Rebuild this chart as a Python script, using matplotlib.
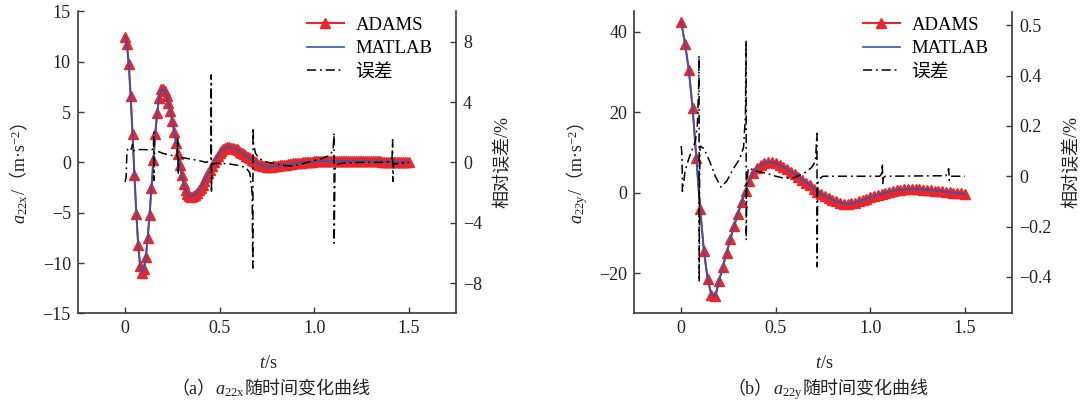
import matplotlib
matplotlib.use('Agg')
import matplotlib.pyplot as plt
import numpy as np
from matplotlib.lines import Line2D

plt.rcParams['font.family'] = ['Liberation Serif', 'Noto Sans CJK SC']
plt.rcParams['mathtext.fontset'] = 'custom'
plt.rcParams['mathtext.rm'] = 'Liberation Serif'
plt.rcParams['mathtext.it'] = 'Liberation Serif:italic'
plt.rcParams['axes.unicode_minus'] = True

# ---------------- data: panel (a) ----------------
t_x = np.round(np.arange(0, 1.5001, 0.01), 2)
a22x = [12.5, 11.8, 9.75, 6.6, 2.8, -1.3, -5.1, -8.25, -10.3, -11.0,
        -10.6, -9.4, -7.5, -5.2, -2.5, 0.2, 2.8, 4.9, 6.4, 7.25,
        7.3, 7.1, 6.6, 5.95, 5.1, 4.1, 3.05, 1.9, 0.8, -0.25,
        -1.25, -2.1, -2.75, -3.15, -3.38, -3.39, -3.32, -3.2, -3.02, -2.79,
        -2.51, -2.2, -1.85, -1.48, -1.1, -0.72, -0.34, 0.02, 0.36, 0.67,
        0.94, 1.16, 1.33, 1.44, 1.5, 1.5, 1.48, 1.43, 1.37, 1.29,
        1.19, 1.08, 0.96, 0.82, 0.68, 0.54, 0.4, 0.26, 0.12, 0.0,
        -0.11, -0.21, -0.29, -0.35, -0.4, -0.42, -0.42, -0.41, -0.4, -0.38,
        -0.36, -0.33, -0.3, -0.27, -0.24, -0.21, -0.18, -0.15, -0.12, -0.09,
        -0.07, -0.05, -0.03, -0.01, 0.01, 0.03, 0.04, 0.06, 0.07, 0.08,
        0.09, 0.1, 0.11, 0.12, 0.13, 0.13, 0.14, 0.14, 0.15, 0.15,
        0.15, 0.16, 0.16, 0.16, 0.16, 0.16, 0.16, 0.16, 0.16, 0.15,
        0.15, 0.15, 0.15, 0.14, 0.14, 0.14, 0.13, 0.13, 0.12, 0.12,
        0.11, 0.11, 0.1, 0.1, 0.09, 0.09, 0.08, 0.08, 0.07, 0.07,
        0.06, 0.06, 0.05, 0.05, 0.04, 0.04, 0.03, 0.03, 0.02, 0.02, 0.01]
matlab_x = a22x

t_err_x = [0.000, 0.006, 0.010, 0.015, 0.025, 0.035, 0.040, 0.043, 0.06, 0.10,
           0.14, 0.150, 0.152, 0.153, 0.156, 0.17, 0.20, 0.25, 0.275, 0.279,
           0.281, 0.285, 0.32, 0.38, 0.43, 0.454, 0.456, 0.457, 0.460, 0.50,
           0.55, 0.60, 0.64, 0.66, 0.672, 0.676, 0.677, 0.68, 0.69, 0.71,
           0.74, 0.78, 0.84, 0.88, 0.92, 0.98, 1.04, 1.08, 1.100, 1.105,
           1.106, 1.110, 1.115, 1.15, 1.25, 1.35, 1.40, 1.412, 1.415, 1.416,
           1.42, 1.50]
err_x = [-1.3, -1.0, 0.6, 0.95, 0.85, 0.9, 1.2, 0.75, 0.85, 0.85,
         0.82, 0.9, 2.0, -1.2, 0.6, 0.75, 0.6, 0.45, 0.4, 1.6,
         -0.8, 0.35, 0.28, 0.15, 0.0, 0.2, 5.8, -2.0, -0.1, -0.05,
         -0.1, -0.2, -0.35, -0.7, -2.0, -7.0, 2.3, 1.2, 0.6, 0.25,
         0.05, -0.05, -0.2, -0.25, -0.15, 0.05, 0.25, 0.45, 0.8, 1.95,
         -5.35, -0.5, -0.15, -0.05, 0.0, 0.0, 0.05, 0.3, 1.5, -1.26,
         -0.1, 0.0]

# ---------------- data: panel (b) ----------------
t_y = np.round(np.arange(0, 1.5001, 0.02), 2)
a22y = [42.3, 37.0, 30.5, 21.0, 8.5, -4.0, -14.5, -21.6, -25.5, -25.8,
        -22.0, -18.5, -15.0, -11.5, -8.3, -5.3, -2.4, 0.4, 2.8, 4.8,
        6.2, 6.9, 7.3, 7.55, 7.55, 7.3, 6.9, 6.4, 5.8, 5.2,
        4.6, 3.9, 3.2, 2.5, 1.8, 1.0, 0.2, -0.4, -0.9, -1.3,
        -1.8, -2.2, -2.5, -2.75, -2.8, -2.7, -2.5, -2.2, -1.9, -1.6,
        -1.2, -0.9, -0.6, -0.3, 0.0, 0.2, 0.4, 0.55, 0.7, 0.8,
        0.85, 0.85, 0.85, 0.8, 0.75, 0.7, 0.6, 0.5, 0.4, 0.3,
        0.2, 0.1, 0.0, -0.1, -0.2, -0.3]
matlab_y = a22y

t_err_y = [0.000, 0.004, 0.006, 0.012, 0.02, 0.04, 0.06, 0.075, 0.085, 0.092,
           0.094, 0.095, 0.097, 0.10, 0.12, 0.15, 0.18, 0.21, 0.24, 0.28,
           0.31, 0.33, 0.34, 0.343, 0.344, 0.347, 0.355, 0.40, 0.45, 0.50,
           0.55, 0.60, 0.65, 0.69, 0.71, 0.718, 0.719, 0.722, 0.73, 0.75,
           1.05, 1.06, 1.064, 1.066, 1.07, 1.08, 1.40, 1.415, 1.418, 1.425,
           1.50]
err_y = [0.12, 0.08, -0.06, -0.03, 0.02, 0.07, 0.11, 0.14, 0.2, 0.35,
         0.48, -0.42, 0.0, 0.12, 0.11, 0.06, 0.0, -0.043, -0.02, 0.035,
         0.07, 0.116, 0.25, 0.54, -0.254, -0.02, 0.032, 0.02, 0.012, 0.0,
         -0.009, -0.005, 0.012, 0.035, 0.06, 0.17, -0.36, -0.03, -0.01, 0.0,
         0.0, 0.01, 0.05, -0.029, -0.005, 0.0, 0.002, 0.03, -0.016, 0.0,
         0.0]

xticks = [0, 0.5, 1.0, 1.5]
xticklabels = ['0', '0.5', '1.0', '1.5']
yticks_a = [-15, -10, -5, 0, 5, 10, 15]
yticks_a2 = [-8, -4, 0, 4, 8]
yticks_b = [-20, 0, 20, 40]
yticks_b2 = [-0.4, -0.2, 0, 0.2, 0.4, 0.6]
yticklabels_b2 = ['\u22120.4', '\u22120.2', '0', '0.2', '0.4', '0.5']

RED = '#E8262C'
BLUE = '#2E5AAC'
SPINE = '#3a3a3a'
TXT = '#222222'
DASH = (0, (6, 2.5, 1.2, 2.5))
FS = 13

W, H = 1083.0, 403.0
fig = plt.figure(figsize=(W / 100, H / 100), dpi=100)


def style(ax, ax2):
    for a in (ax, ax2):
        a.spines['top'].set_visible(False)
        for s in a.spines.values():
            s.set_color(SPINE)
            s.set_linewidth(1.2)
    ax.spines['right'].set_visible(False)
    ax2.spines['left'].set_visible(False)
    ax2.spines['bottom'].set_visible(False)
    for a in (ax, ax2):
        a.tick_params(direction='in', length=4, width=1, color=SPINE,
                      labelsize=FS, labelcolor=TXT, pad=5)
    ax.set_xlim(-0.25, 1.75)
    ax.set_xticks(xticks)
    ax.set_xticklabels(xticklabels)


def draw(rect, t, adams, matlab, te, err, ylim, yt, ylim2, yt2, ytl2):
    ax = fig.add_axes(rect)
    ax2 = ax.twinx()
    ax.plot(t, adams, color=RED, lw=1.5, marker='^', ms=7.5, mec=RED, mfc=RED, zorder=2)
    ax.plot(t, matlab, color=BLUE, lw=1.2, zorder=3)
    ax2.plot(te, err, color='black', lw=1.1, linestyle=DASH)
    ax.set_ylim(*ylim)
    ax.set_yticks(yt)
    ax2.set_ylim(*ylim2)
    ax2.set_yticks(yt2)
    if ytl2 is not None:
        ax2.set_yticklabels(ytl2)
    style(ax, ax2)
    handles = [Line2D([], [], color=RED, lw=1.5, marker='^', ms=7.5),
               Line2D([], [], color=BLUE, lw=1.2),
               Line2D([], [], color='black', lw=1.1, linestyle=DASH)]
    ax2.legend(handles, ['ADAMS', 'MATLAB', '误差'], loc='upper left',
               bbox_to_anchor=(0.605, 0.982), frameon=False, fontsize=13.5,
               handlelength=2.0, handletextpad=0.6, labelspacing=0.32,
               borderaxespad=0, borderpad=0, numpoints=1)
    return ax, ax2


pa = [77.7 / W, 89.7 / H, 378.3 / W, 301.8 / H]
pb = [634 / W, 89.7 / H, 378 / W, 301.8 / H]

draw(pa, t_x, a22x, matlab_x, t_err_x, err_x, (-15, 15), yticks_a,
     (-10, 10), yticks_a2, None)
draw(pb, t_y, a22y, matlab_y, t_err_y, err_y, (-30, 45), yticks_b,
     (-0.545, 0.655), yticks_b2, yticklabels_b2)

renderer = fig.canvas.get_renderer()


def rich(xc, yc, parts, vertical=False, fs=FS):
    """Place a sequence of text pieces centred at pixel (xc, yc from top)."""
    sizes = []
    for s in parts:
        tt = fig.text(0, 0, s, fontsize=fs)
        bb = tt.get_window_extent(renderer)
        sizes.append(bb.width)
        tt.remove()
    total = sum(sizes)
    ypix = H - yc
    asc = 0.33 * fs * 100 / 72.0
    if vertical:
        pos = ypix - total / 2.0
    else:
        pos = xc - total / 2.0
    for s, w in zip(parts, sizes):
        if vertical:
            fig.text((xc + asc) / W, pos / H, s, fontsize=fs, color=TXT,
                     rotation=90, rotation_mode='anchor', ha='left', va='baseline')
        else:
            fig.text(pos / W, (ypix - asc) / H, s, fontsize=fs, color=TXT,
                     ha='left', va='baseline')
        pos += w


rich(19, 168, [r'$a_{\mathrm{22x}}$', '/（m·s', r'${}^{-2}$', '）'], vertical=True)
rich(576, 168, [r'$a_{\mathrm{22y}}$', '/（m·s', r'${}^{-2}$', '）'], vertical=True)
rich(502, 162, ['相对误差/%'], vertical=True)
rich(1071, 162, ['相对误差/%'], vertical=True)
rich(268, 362, [r'$t$/s'])
rich(824, 362, [r'$t$/s'])
rich(271, 388, ['（a）', r'$a_{\mathrm{22x}}$', '随时间变化曲线'])
rich(828, 388, ['（b）', r'$a_{\mathrm{22y}}$', '随时间变化曲线'])

fig.savefig('out.png', dpi=100)
